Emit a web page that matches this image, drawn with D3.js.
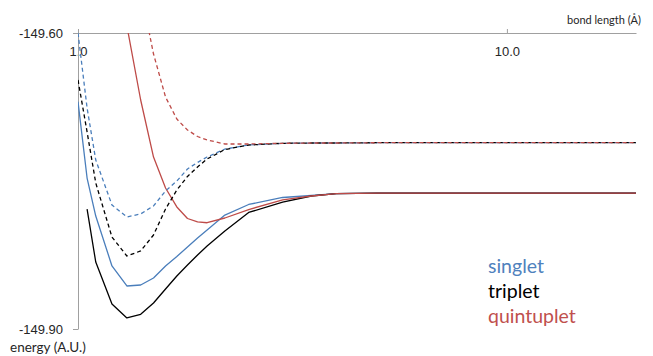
<!DOCTYPE html>
<html>
<head>
<meta charset="utf-8">
<script src="https://cdn.jsdelivr.net/npm/d3@7/dist/d3.min.js"></script>
<style>
  html, body { margin: 0; padding: 0; background: #fff; }
  svg { display: block; font-family: Lato, "Open Sans", sans-serif; }
</style>
</head>
<body>
<svg id="chart" width="653" height="356"></svg>
<script>
// Bond lengths (Å) at which each potential energy curve was sampled
const bondLengths = [1.0, 1.05, 1.1, 1.2, 1.3, 1.4, 1.5, 1.6, 1.7, 1.8, 1.9, 2.0, 2.2, 2.5, 3.0, 3.5, 4.0, 5.0, 10.0, 20.0];

// Energies (A.U.); null where a state was not computed
const singletLower = [-149.6696, -149.7470, -149.7855, -149.8361, -149.8564, -149.8554, -149.8483, -149.8361, -149.8265, -149.8169,
                      -149.8078, -149.7997, -149.7845, -149.7738, -149.7667, -149.7647, -149.7627, -149.7622, -149.7622, -149.7622];
const tripletLower = [null, -149.7784, -149.8321, -149.8747, -149.8888, -149.8851, -149.8736, -149.8595, -149.8463, -149.8351,
                      -149.8250, -149.8159, -149.8007, -149.7819, -149.7713, -149.7652, -149.7627, -149.7622, -149.7622, -149.7622];
const quintupletLower = [null, null, null, null, -149.5927, -149.6679, -149.7257, -149.7571, -149.7763, -149.7880,
                         -149.7915, -149.7923, -149.7875, -149.7789, -149.7692, -149.7652, -149.7627, -149.7622, -149.7622, -149.7622];
const singletUpper = [-149.6000, -149.6760, -149.7287, -149.7743, -149.7865, -149.7834, -149.7753, -149.7601, -149.7500, -149.7378,
                      -149.7312, -149.7257, -149.7176, -149.7135, -149.7118, -149.7115, -149.7115, -149.7112, -149.7112, -149.7112];
const tripletUpper = [-149.6476, -149.7003, -149.7520, -149.8068, -149.8260, -149.8209, -149.8047, -149.7784, -149.7591, -149.7454,
                      -149.7358, -149.7277, -149.7181, -149.7135, -149.7118, -149.7115, -149.7115, -149.7112, -149.7112, -149.7112];
const quintupletUpper = [null, null, null, null, null, -149.5564, -149.6213, -149.6649, -149.6872, -149.6983,
                         -149.7049, -149.7084, -149.7125, -149.7125, -149.7118, -149.7115, -149.7115, -149.7112, -149.7112, -149.7112];

// Axis ticks
const xTicks = [1, 10];
const yTicks = [-149.60, -149.90];

// Legend entries
const legendLabels = ["singlet", "triplet", "quintuplet"];
const legendColors = ["#4f81bd", "#000000", "#c0504d"];

const series = [
  { values: singletLower,    color: "#4a7ebb", dash: null },
  { values: tripletLower,    color: "#000000", dash: null },
  { values: quintupletLower, color: "#be4b48", dash: null },
  { values: singletUpper,    color: "#4a7ebb", dash: "4,3" },
  { values: tripletUpper,    color: "#000000", dash: "4,3" },
  { values: quintupletUpper, color: "#be4b48", dash: "4,3" }
];

const svg = d3.select("#chart");
const plot = { left: 78, right: 636, top: 33, bottom: 329 };

const x = d3.scaleLog().domain([1, 20]).range([plot.left, plot.right]);
const y = d3.scaleLinear().domain([-149.90, -149.60]).range([plot.bottom, plot.top]);

svg.append("defs").append("clipPath").attr("id", "plotClip")
  .append("rect")
  .attr("x", plot.left).attr("y", plot.top)
  .attr("width", plot.right - plot.left).attr("height", plot.bottom - plot.top);

const axisColor = "#a0a0a0";
const textColor = "#262626";

// Horizontal axis sits along the top edge (-149.60); labels hang below the line
const xAxis = svg.append("g")
  .attr("transform", `translate(0,${plot.top})`)
  .call(d3.axisBottom(x).tickValues(xTicks).tickFormat(d3.format(".1f"))
    .tickSizeInner(-4).tickSizeOuter(0).tickPadding(14));
xAxis.select(".domain").attr("stroke", axisColor);
xAxis.selectAll(".tick line").attr("stroke", axisColor);
xAxis.selectAll(".tick text").attr("fill", textColor).style("font-size", "13px");

// Vertical axis
const yAxis = svg.append("g")
  .attr("transform", `translate(${plot.left},0)`)
  .call(d3.axisLeft(y).tickValues(yTicks).tickFormat(d => d.toFixed(2))
    .tickSizeInner(5).tickSizeOuter(0).tickPadding(10));
yAxis.select(".domain").attr("stroke", axisColor);
yAxis.selectAll(".tick line").attr("stroke", axisColor);
yAxis.selectAll(".tick text").attr("fill", textColor).style("font-size", "13px");

// Axis titles
svg.append("text")
  .attr("x", 641).attr("y", 24)
  .attr("text-anchor", "end")
  .attr("fill", textColor).style("font-size", "11px")
  .text("bond length (Å)");

svg.append("text")
  .attr("x", 10).attr("y", 352)
  .attr("fill", textColor).style("font-size", "13.5px")
  .text("energy (A.U.)");

// Curves
const line = d3.line()
  .defined(d => d.e !== null)
  .x(d => x(d.r))
  .y(d => y(d.e));

const curves = svg.append("g").attr("clip-path", "url(#plotClip)");
series.forEach(s => {
  const pts = bondLengths.map((r, i) => ({ r, e: s.values[i] }));
  curves.append("path")
    .datum(pts)
    .attr("fill", "none")
    .attr("stroke", s.color)
    .attr("stroke-width", 1.3)
    .attr("stroke-linejoin", "round")
    .attr("stroke-dasharray", s.dash)
    .attr("d", line);
});

// Legend
svg.append("g").selectAll("text")
  .data(legendLabels)
  .join("text")
  .attr("x", 488)
  .attr("y", (d, i) => 273 + i * 25)
  .attr("fill", (d, i) => legendColors[i])
  .style("font-size", "19.5px")
  .text(d => d);
</script>
</body>
</html>
